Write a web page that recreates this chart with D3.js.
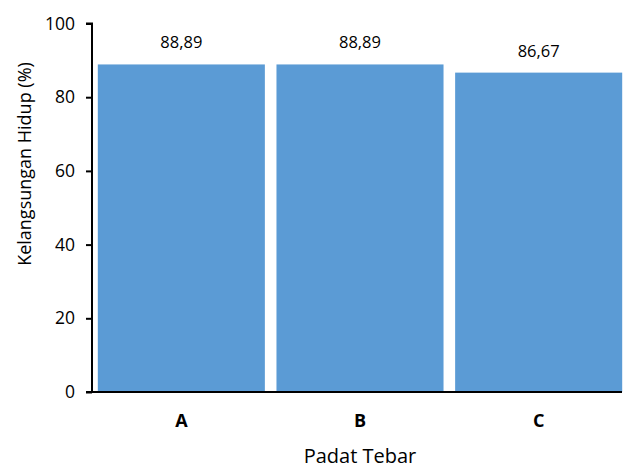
<!DOCTYPE html>
<html><head><meta charset="utf-8">
<script src="https://cdn.jsdelivr.net/npm/d3@7"></script>
<style>body{margin:0;background:#fff}svg{display:block}text{font-family:"Open Sans",sans-serif;fill:#000}</style>
</head><body><svg id="c" width="628" height="469"></svg>
<script>
const categories = ["A","B","C"];
const values = [88.89, 88.89, 86.67];
const valueLabels = ["88,89","88,89","86,67"];
const yTicks = [0,20,40,60,80,100];
const xTitle = "Padat Tebar";
const yTitle = "Kelangsungan Hidup (%)";

const FONT = "'Open Sans',sans-serif";
const svg = d3.select("#c");
const x = d3.scaleBand().domain(categories).range([92,628]).paddingInner(0.065).paddingOuter(0.0325);
const y = d3.scaleLinear().domain([0,100]).range([392,23.5]);

svg.selectAll("rect.bar").data(values).join("rect").attr("class","bar")
  .attr("x",(d,i)=>x(categories[i])).attr("width",x.bandwidth())
  .attr("y",d=>y(d)).attr("height",d=>y(0)-y(d)).attr("fill","#5B9BD5");

svg.selectAll("text.val").data(values).join("text").attr("class","val")
  .attr("x",(d,i)=>x(categories[i])+x.bandwidth()/2).attr("y",d=>y(d)-16)
  .attr("text-anchor","middle").style("font-size","16.5px").text((d,i)=>valueLabels[i]);

const ya = svg.append("g").attr("transform","translate(92,0)")
  .call(d3.axisLeft(y).tickValues(yTicks).tickSize(6).tickPadding(11));
ya.select(".domain").attr("stroke","#000").attr("stroke-width",2).attr("d","M-6,23.5H0V392");
ya.selectAll(".tick line").attr("stroke","#000").attr("stroke-width",2);
ya.selectAll(".tick text").style("font-size","17.5px").style("font-family",FONT).attr("fill","#000");

const xa = svg.append("g").attr("transform","translate(0,392)")
  .call(d3.axisBottom(x).tickSize(0).tickPadding(22));
xa.select(".domain").attr("stroke","#000").attr("stroke-width",2).attr("d","M86,0H622");
xa.selectAll(".tick text").style("font-size","18px").style("font-weight","bold").style("font-family",FONT).attr("fill","#000");

svg.append("text").attr("x",360).attr("y",463).attr("text-anchor","middle").style("font-size","20px").text(xTitle);
svg.append("text").attr("transform","translate(31,164) rotate(-90)").attr("text-anchor","middle").style("font-size","18px").text(yTitle);
</script></body></html>
